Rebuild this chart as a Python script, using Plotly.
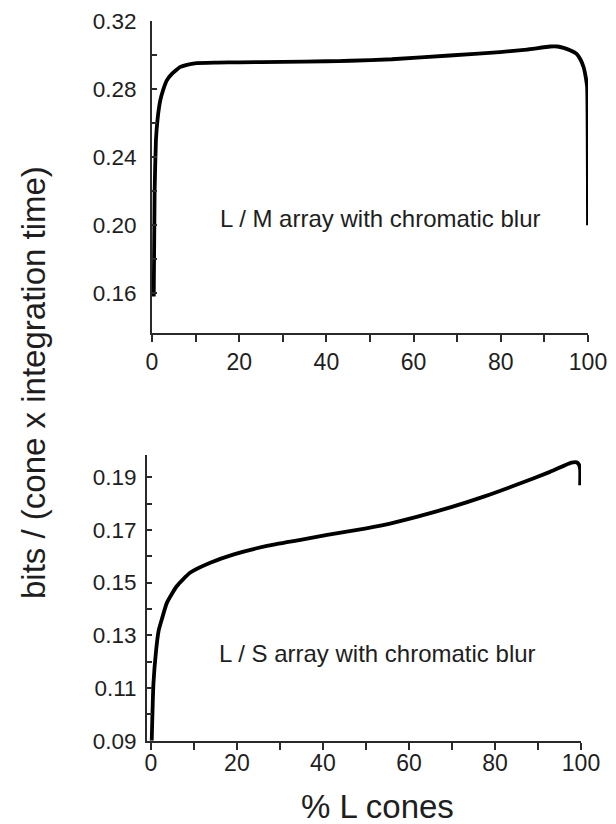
import plotly.graph_objects as go

# Top panel: L / M array with chromatic blur
lm_x = [0.4, 0.6, 0.9, 1.3, 1.9, 2.6, 3.4, 4.5, 6.4, 8.0, 10.2, 15, 20, 30, 40,
        45.4, 55, 68.3, 79.8, 86, 91.3, 93, 94.4, 96, 97.4, 98.3, 99.0, 99.5, 99.8, 100]
lm_y = [0.158, 0.220, 0.250, 0.263, 0.2735, 0.280, 0.2853, 0.289, 0.2931, 0.2945,
        0.2955, 0.2958, 0.2960, 0.2962, 0.2966, 0.2969, 0.2978, 0.3000, 0.3020, 0.3035,
        0.3053, 0.3053, 0.3045, 0.3030, 0.3010, 0.2975, 0.2931, 0.2870, 0.2814, 0.200]

# Bottom panel: L / S array with chromatic blur
ls_x = [0.2, 0.6, 1.2, 1.8, 2.5, 3.7, 6.0, 9.1, 13.8, 19.3, 27, 34.8, 41, 48,
        54, 62, 70, 77.4, 85, 92.8, 97.8, 99.0, 99.5, 99.8, 99.8]
ls_y = [0.090, 0.1117, 0.1240, 0.1317, 0.1358, 0.1422, 0.1486, 0.1537, 0.1575, 0.1607,
        0.1639, 0.1662, 0.1681, 0.1700, 0.1718, 0.1750, 0.1787, 0.1826, 0.1871, 0.1920,
        0.1955, 0.1956, 0.1948, 0.1930, 0.1869]

x_ticks_major = [0, 20, 40, 60, 80, 100]
x_ticks_minor = [10, 30, 50, 70, 90]
lm_yticks = [0.16, 0.20, 0.24, 0.28, 0.32]
lm_yminor = [0.18, 0.22, 0.26, 0.30]
ls_yticks = [0.09, 0.11, 0.13, 0.15, 0.17, 0.19]
ls_yminor = [0.10, 0.12, 0.14, 0.16, 0.18]

FONT = "Liberation Sans, Arial, Helvetica, sans-serif"
AX = "#2a2a2a"
TXT = "#1e1e1e"

fig = go.Figure()
fig.add_trace(go.Scatter(x=lm_x, y=lm_y, mode="lines",
                         line=dict(color="black", width=3.8, shape="spline", smoothing=0.4),
                         xaxis="x", yaxis="y", showlegend=False))
fig.add_trace(go.Scatter(x=ls_x, y=ls_y, mode="lines",
                         line=dict(color="black", width=3.8, shape="spline", smoothing=0.5),
                         xaxis="x2", yaxis="y2", showlegend=False))

W, H = 616, 824
def fx(px): return px / W
def fy(py): return 1 - py / H

def xaxis_style(standoff):
    return dict(showline=True, linecolor=AX, linewidth=2, ticks="outside", ticklen=7,
                tickwidth=2, tickcolor=AX, showgrid=False, zeroline=False, automargin=False,
                tickmode="array", tickvals=x_ticks_major, ticklabelstandoff=standoff,
                minor=dict(tickmode="array", tickvals=x_ticks_minor, ticks="outside",
                           ticklen=7, tickwidth=2, tickcolor=AX, showgrid=False),
                tickfont=dict(family=FONT, size=23, color=TXT))

common_y = dict(showline=True, linecolor=AX, linewidth=2, ticks="inside", ticklen=5,
                tickwidth=2, tickcolor=AX, showgrid=False, zeroline=False, automargin=False,
                tickformat=".2f", tickfont=dict(family=FONT, size=22.5, color=TXT))

fig.update_layout(
    template="none",
    width=W, height=H, margin=dict(l=0, r=0, t=0, b=0, autoexpand=False),
    paper_bgcolor="white", plot_bgcolor="white",
    xaxis=dict(domain=[fx(152), fx(588)], range=[0, 100], anchor="y", **xaxis_style(0)),
    yaxis=dict(domain=[fy(333), fy(20.7)], range=[0.1365, 0.3205], anchor="x",
               tickmode="array", tickvals=lm_yticks, ticklabelstandoff=9,
               minor=dict(tickmode="array", tickvals=lm_yminor, ticks="inside",
                          ticklen=5, tickwidth=2, tickcolor=AX, showgrid=False),
               **common_y),
    xaxis2=dict(domain=[fx(147), fx(581)], range=[-0.9, 100], anchor="y2", **xaxis_style(-6)),
    yaxis2=dict(domain=[fy(740.7), fy(455)], range=[0.09, 0.1984], anchor="x2",
                tickmode="array", tickvals=ls_yticks, ticklabelstandoff=4,
                minor=dict(tickmode="array", tickvals=ls_yminor,
                           ticks="inside", ticklen=5, tickwidth=2, tickcolor=AX, showgrid=False),
                **common_y),
    annotations=[
        dict(text="L / M array with chromatic blur", x=fx(380), y=fy(218), xref="paper",
             yref="paper", xanchor="center", yanchor="middle", showarrow=False,
             font=dict(family=FONT, size=24, color=TXT)),
        dict(text="L / S array with chromatic blur", x=fx(377), y=fy(653), xref="paper",
             yref="paper", xanchor="center", yanchor="middle", showarrow=False,
             font=dict(family=FONT, size=24, color=TXT)),
        dict(text="bits / (cone x integration time)", x=fx(33), y=fy(383), xref="paper",
             yref="paper", xanchor="center", yanchor="middle", showarrow=False, textangle=-90,
             font=dict(family=FONT, size=33, color=TXT)),
        dict(text="% L cones", x=fx(377), y=fy(806), xref="paper", yref="paper",
             xanchor="center", yanchor="middle", showarrow=False,
             font=dict(family=FONT, size=33, color=TXT)),
    ],
)

fig.write_html("out.html")
